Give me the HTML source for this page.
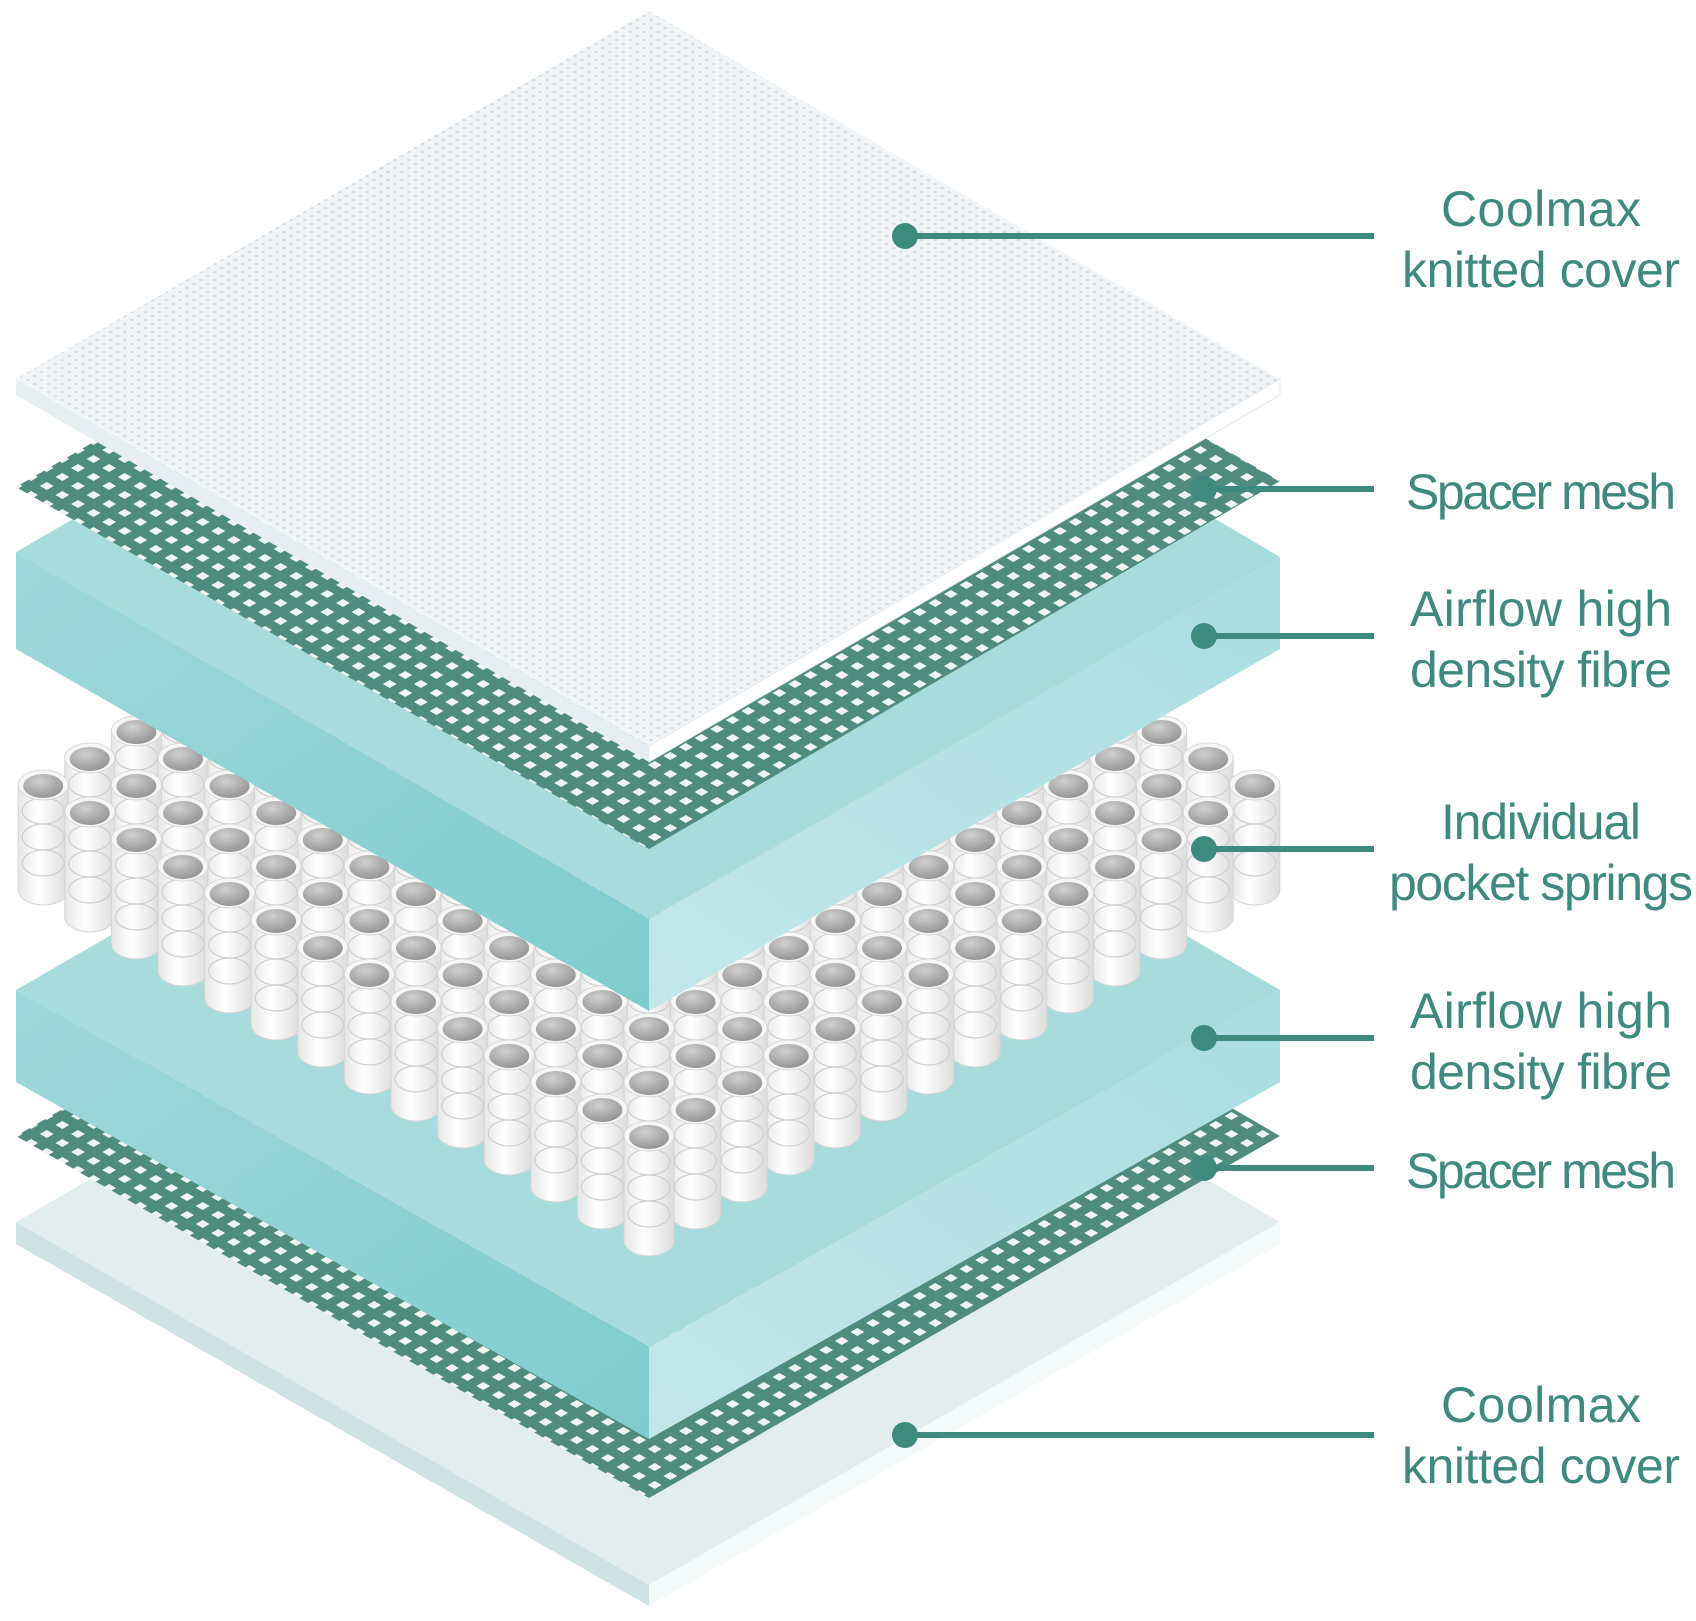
<!DOCTYPE html>
<html><head><meta charset="utf-8"><style>
html,body{margin:0;padding:0;background:#fff;}
svg{display:block;}
text{font-family:"Liberation Sans",sans-serif;fill:#3f8a7f;font-size:50px;}
</style></head><body>
<svg id="s" width="1696" height="1621" viewBox="0 0 1696 1621" xmlns="http://www.w3.org/2000/svg">
<defs>
 <pattern id="mesh" width="18" height="18" patternUnits="userSpaceOnUse" patternTransform="matrix(0.866,0.5,-0.866,0.5,0,0)">
  <rect width="18" height="18" fill="#4f8c7d"/><rect x="5" y="5" width="8" height="8" fill="#eef5f2"/>
 </pattern>
 <pattern id="dots" width="8" height="8" patternUnits="userSpaceOnUse" patternTransform="matrix(0.866,0.5,-0.866,0.5,0,0)">
  <rect width="8" height="8" fill="#f1f5f7"/><circle cx="4" cy="4" r="1.6" fill="#d3dde2"/>
 </pattern>
 <linearGradient id="foamL" x1="0" y1="0" x2="1" y2="1"><stop offset="0" stop-color="#9fd8da"/><stop offset="1" stop-color="#7fcccd"/></linearGradient>
 <linearGradient id="foamR" x1="0" y1="1" x2="1" y2="0"><stop offset="0" stop-color="#c3e7ea"/><stop offset="1" stop-color="#a9dde0"/></linearGradient>
 <radialGradient id="hole" cx="0.4" cy="0.3" r="0.8"><stop offset="0" stop-color="#d0d0d0"/><stop offset="1" stop-color="#8d8d8d"/></radialGradient>
 <linearGradient id="cyl" x1="0" x2="1"><stop offset="0" stop-color="#e6e6e6"/><stop offset="0.4" stop-color="#ffffff"/><stop offset="1" stop-color="#dcdcdc"/></linearGradient>
</defs>

<polygon points="16,1222 649,856 1280,1222 649,1585" fill="#e2eeee"/>
<polygon points="16,1222 649,1585 649,1606 16,1244" fill="#cfe2e3"/>
<polygon points="649,1585 1280,1222 1280,1244 649,1606" fill="#f4f9f9"/>
<polygon points="16,1136 649,770 1280,1136 649,1498" fill="url(#mesh)"/>
<polygon points="16,990 649,624 1280,990 649,1347" fill="#a8dcdc"/>
<polygon points="16,990 649,1347 649,1439 16,1082" fill="url(#foamL)"/>
<polygon points="649,1347 1280,990 1280,1082 649,1439" fill="url(#foamR)"/>
<g id="springs"></g>
<polygon points="16,552 649,186 1280,557 649,919" fill="#a8dcdc"/>
<polygon points="16,552 649,919 649,1011 16,649" fill="url(#foamL)"/>
<polygon points="649,919 1280,557 1280,649 649,1011" fill="url(#foamR)"/>
<polygon points="16,487 649,120 1280,481 649,849" fill="url(#mesh)"/>
<polygon points="16,379 649,11 1280,379 649,746" fill="url(#dots)"/>
<polygon points="16,379 649,746 649,762 16,395" fill="#e6eef2"/>
<polygon points="649,746 1280,379 1280,395 649,762" fill="#ffffff" stroke="#e4e9ec"/>

<g stroke="#3f8a7f" stroke-width="6">
 <line x1="905" y1="236" x2="1374" y2="236"/>
 <line x1="1204" y1="489" x2="1374" y2="489"/>
 <line x1="1204" y1="636" x2="1374" y2="636"/>
 <line x1="1204" y1="849" x2="1374" y2="849"/>
 <line x1="1204" y1="1038" x2="1374" y2="1038"/>
 <line x1="1204" y1="1168" x2="1374" y2="1168"/>
 <line x1="905" y1="1435" x2="1374" y2="1435"/>
</g>
<g fill="#3f8a7f">
 <circle cx="905" cy="236" r="13"/><circle cx="1204" cy="489" r="13"/><circle cx="1204" cy="636" r="13"/>
 <circle cx="1204" cy="849" r="13"/><circle cx="1204" cy="1038" r="13"/><circle cx="1204" cy="1168" r="13"/>
 <circle cx="905" cy="1435" r="13"/>
</g>
<g text-anchor="middle">
 <text x="1541" y="226" textLength="200">Coolmax</text>
 <text x="1541" y="287" textLength="278">knitted cover</text>
 <text x="1541" y="509" textLength="270">Spacer mesh</text>
 <text x="1541" y="626" textLength="262">Airflow high</text>
 <text x="1541" y="687" textLength="262">density fibre</text>
 <text x="1541" y="839" textLength="200">Individual</text>
 <text x="1541" y="900" textLength="304">pocket springs</text>
 <text x="1541" y="1028" textLength="262">Airflow high</text>
 <text x="1541" y="1089" textLength="262">density fibre</text>
 <text x="1541" y="1188" textLength="270">Spacer mesh</text>
 <text x="1541" y="1422" textLength="200">Coolmax</text>
 <text x="1541" y="1483" textLength="278">knitted cover</text>
</g>
</svg>
<script>
(function(){
 var g=document.getElementById('springs');
 var N=14,bx=649,by=434,dx=46.6,dy=27,rx=25,ry=15,h=105,items=[];
 for(var i=0;i<N;i++)for(var j=0;j<N;j++)items.push([i,j]);
 items.sort(function(a,b){return (a[0]+a[1])-(b[0]+b[1]);});
 var html='';
 items.forEach(function(p){
  var x=bx+(p[1]-p[0])*dx, y=by+(p[0]+p[1])*dy;
  html+='<path d="M'+(x-rx)+','+y+' L'+(x-rx)+','+(y+h)+' A'+rx+','+ry+' 0 0 0 '+(x+rx)+','+(y+h)+' L'+(x+rx)+','+y+' Z" fill="url(#cyl)" stroke="#d4d4d4" stroke-width="1"/>';
  for(var k=1;k<=3;k++)html+='<ellipse cx="'+x+'" cy="'+(y+k*26)+'" rx="'+(rx-4)+'" ry="'+(ry-2)+'" fill="none" stroke="#cfcfcf" stroke-width="1.2"/>';
  html+='<ellipse cx="'+x+'" cy="'+y+'" rx="'+rx+'" ry="'+ry+'" fill="#f6f6f6" stroke="#d8d8d8"/>';
  html+='<ellipse cx="'+x+'" cy="'+(y+1)+'" rx="'+(rx-5)+'" ry="'+(ry-3)+'" fill="url(#hole)"/>';
 });
 g.innerHTML=html;
})();
</script>
</body></html>
